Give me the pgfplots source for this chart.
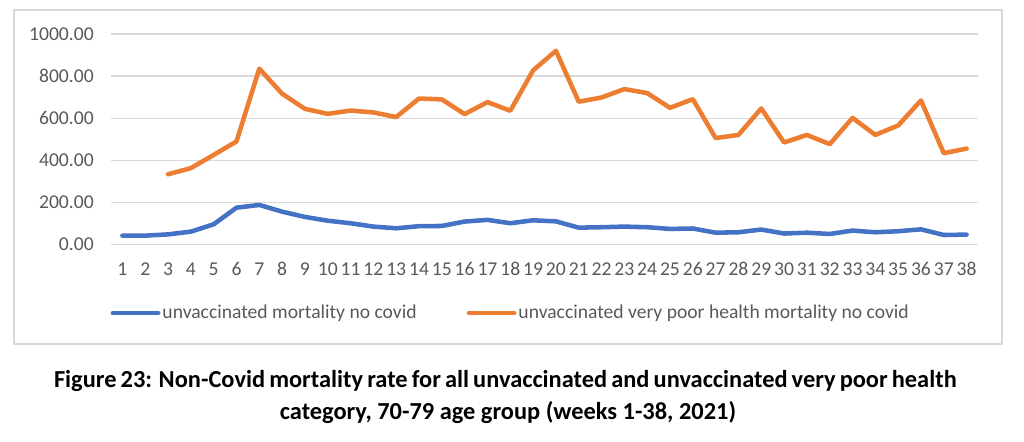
\documentclass[border=0pt]{standalone}
\usepackage{pgfplots}
\pgfplotsset{compat=1.18}
\usepackage{fontspec}
\setmainfont{Carlito}
\definecolor{xlblue}{HTML}{4472C4}
\definecolor{xlorange}{HTML}{ED7D31}
\definecolor{xltext}{HTML}{595959}
\definecolor{xlgrid}{HTML}{D9D9D9}
\begin{document}
\begin{tikzpicture}
\useasboundingbox (0pt,0pt) rectangle (768pt,331.5pt);
% chart frame
\draw[xlgrid, line width=1.2pt] (10.5pt,73.5pt) rectangle (751.5pt,324pt);
\begin{axis}[
  at={(83.25pt,148.3pt)}, anchor=south west,
  scale only axis,
  width=650.25pt, height=157.7pt,
  xmin=0.5, xmax=38.5,
  ymin=0, ymax=1000,
  xtick={1,...,38},
  ytick={0,200,...,1000},
  ymajorgrids,
  grid style={xlgrid, line width=0.9pt},
  axis line style={draw=none},
  major tick length=0pt,
  tick label style={font=\fontsize{14.7}{16}\selectfont, text=xltext},
  /pgf/number format/assume math mode=true,
  y tick label style={/pgf/number format/fixed, /pgf/number format/fixed zerofill,
    /pgf/number format/precision=2, /pgf/number format/1000 sep={},
    inner sep=0pt, xshift=-12.75pt},
  x tick label style={inner sep=0pt, yshift=-13.5pt},
  clip=false,
  legend columns=2,
  legend style={at={(0.461,-0.327)}, anchor=center, draw=none, fill=none,
    font=\fontsize{14.7}{16}\selectfont, text=xltext,
    /tikz/every even column/.append style={column sep=36pt},
    nodes={inner sep=1.5pt}},
  legend image code/.code={\draw[#1, line width=3.4pt, line cap=round] (0pt,0pt) -- (34pt,0pt);},
]
\addplot[xlblue, line width=3.4pt, line join=round, line cap=round] coordinates {
(1,41) (2,41) (3,47) (4,60) (5,95) (6,174) (7,187) (8,155) (9,130) (10,112)
(11,100) (12,84) (13,76) (14,86) (15,87) (16,108) (17,116) (18,100) (19,114) (20,109)
(21,79) (22,81) (23,84) (24,81) (25,73) (26,75) (27,55) (28,57) (29,70) (30,51)
(31,55) (32,49) (33,65) (34,57) (35,62) (36,71) (37,44) (38,46)
};
\addlegendentry{unvaccinated mortality no covid}
\addplot[xlorange, line width=3.4pt, line join=round, line cap=round] coordinates {
(3,333) (4,362) (5,425) (6,489) (7,835) (8,716) (9,644) (10,620)
(11,636) (12,627) (13,605) (14,693) (15,689) (16,619) (17,676) (18,635) (19,827) (20,920)
(21,678) (22,698) (23,738) (24,719) (25,649) (26,690) (27,505) (28,520) (29,646) (30,484)
(31,520) (32,476) (33,601) (34,520) (35,565) (36,684) (37,433) (38,455)
};
\addlegendentry{unvaccinated very poor health mortality no covid}
\end{axis}
\node[anchor=base, inner sep=0pt, font=\fontsize{18.3}{24}\selectfont\bfseries] at (379pt,40.5pt)
  {\makebox[677pt][s]{Figure 23: Non-Covid mortality rate for all unvaccinated and unvaccinated very poor health}};
\node[anchor=base, inner sep=0pt, font=\fontsize{18.3}{24}\selectfont\bfseries] at (381pt,16.5pt)
  {category, 70-79 age group (weeks 1-38, 2021)};
\end{tikzpicture}
\end{document}
